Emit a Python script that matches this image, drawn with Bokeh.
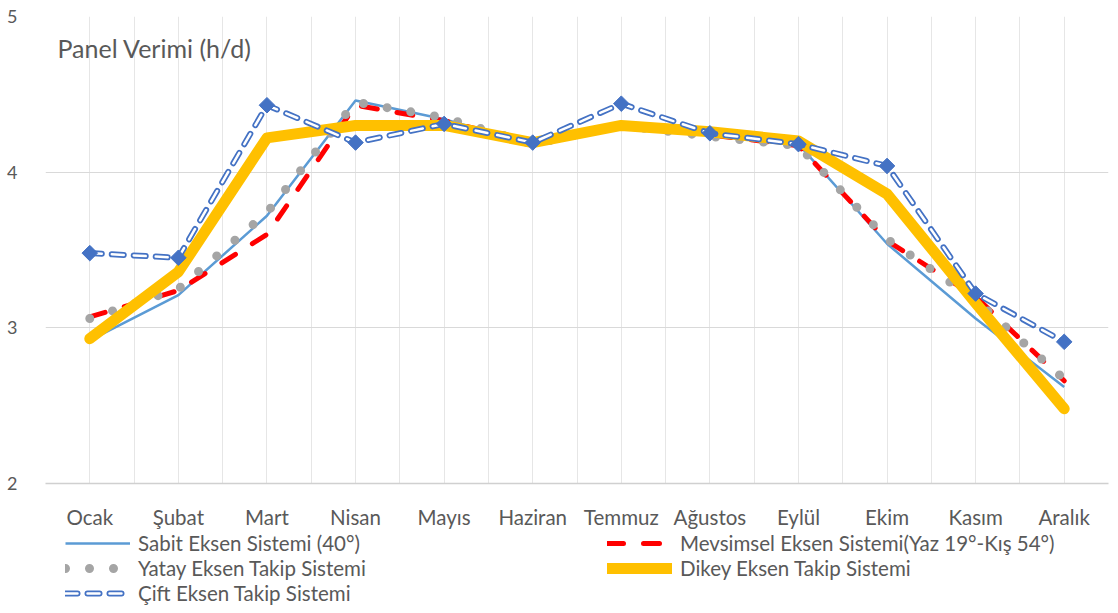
import numpy as np
from bokeh.plotting import figure
from bokeh.layouts import column
from bokeh.models import (ColumnDataSource, FixedTicker, Legend, LegendItem, Label, Range1d)
from bokeh.embed import file_html
from bokeh.resources import INLINE

months = ["Ocak", "Şubat", "Mart", "Nisan", "Mayıs", "Haziran", "Temmuz",
          "Ağustos", "Eylül", "Ekim", "Kasım", "Aralık"]
sabit = [2.92, 3.21, 3.72, 4.46, 4.34, 4.18, 4.30, 4.24, 4.18, 3.54, 3.06, 2.62]
mevsimsel = [3.07, 3.24, 3.60, 4.43, 4.33, 4.19, 4.30, 4.24, 4.17, 3.56, 3.20, 2.66]
yatay = [3.06, 3.25, 3.74, 4.45, 4.35, 4.18, 4.30, 4.23, 4.17, 3.57, 3.18, 2.67]
dikey = [2.93, 3.36, 4.22, 4.30, 4.30, 4.19, 4.30, 4.26, 4.20, 3.86, 3.16, 2.48]
cift = [3.48, 3.45, 4.43, 4.19, 4.31, 4.19, 4.44, 4.25, 4.18, 4.04, 3.22, 2.91]
y_ticks = [2, 3, 4, 5]

names = ["Sabit Eksen Sistemi (40°)", "Mevsimsel Eksen Sistemi(Yaz 19°-Kış 54°)",
         "Yatay Eksen Takip Sistemi", "Dikey Eksen Takip Sistemi", "Çift Eksen Takip Sistemi"]

FONT = "Lato"
TXT = "#595959"

STY = {
    "sabit": [dict(line_color="#5B9BD5", line_width=2.5)],
    "mevsimsel": [dict(line_color="#FF0000", line_width=5, line_dash="16 20",
                       line_cap="round", line_join="round")],
    "yatay": [dict(line_color="#A5A5A5", line_width=9, line_dash="0 24",
                   line_cap="round", line_join="round")],
    "dikey": [dict(line_color="#FFC000", line_width=11, line_cap="round", line_join="round")],
    "cift": [dict(line_color="#4472C4", line_width=6, line_dash="12 10",
                  line_cap="round", line_join="round"),
             dict(line_color="white", line_width=2.5, line_dash="12 10",
                  line_cap="round", line_join="round")],
}
ORDER = ["sabit", "mevsimsel", "yatay", "dikey", "cift"]

x = np.arange(1, len(months) + 1)
src = ColumnDataSource(dict(x=x, sabit=sabit, mevsimsel=mevsimsel, yatay=yatay,
                            dikey=dikey, cift=cift))

W = 1110
p = figure(width=W, height=531, output_backend="svg", toolbar_location=None,
           x_range=Range1d(0.5, len(months) + 0.5), y_range=Range1d(min(y_ticks), max(y_ticks)),
           min_border_left=45, min_border_right=2, min_border_top=16, min_border_bottom=43)
p.outline_line_color = None

p.xaxis.ticker = FixedTicker(ticks=list(x))
p.xaxis.major_label_overrides = {int(i): m for i, m in zip(x, months)}
p.xaxis.major_tick_line_color = None
p.xaxis.minor_tick_line_color = None
p.xaxis.axis_line_color = "#D0D0D0"
p.xaxis.axis_line_width = 1.5
p.xaxis.major_label_standoff = 15
p.xaxis.major_label_text_font = FONT
p.xaxis.major_label_text_font_size = "20.5px"
p.xaxis.major_label_text_color = TXT

p.yaxis.ticker = FixedTicker(ticks=y_ticks)
p.yaxis.major_tick_line_color = None
p.yaxis.minor_tick_line_color = None
p.yaxis.axis_line_color = None
p.yaxis.major_label_standoff = 22
p.yaxis.major_label_text_font = FONT
p.yaxis.major_label_text_font_size = "18px"
p.yaxis.major_label_text_color = TXT

p.xgrid.ticker = FixedTicker(ticks=list(np.arange(0.5, len(months) + 1, 0.5)))
p.xgrid.grid_line_color = "#E6E6E6"
p.ygrid.ticker = FixedTicker(ticks=y_ticks)
p.ygrid.grid_line_color = "#D9D9D9"

for key in ORDER:
    for st in STY[key]:
        p.line("x", key, source=src, **st)
p.scatter("x", "cift", source=src, marker="square", angle=np.pi / 4, size=11,
          fill_color="#4472C4", line_color="#4472C4")

title = Label(x=12, y=436, x_units="screen", y_units="screen", text="Panel Verimi (h/d)",
              text_font=FONT, text_font_size="25px", text_color=TXT,
              text_baseline="alphabetic")
p.add_layout(title)

# legend strip below the chart (its sample lines use the same data, kept out of view)
lg = figure(width=W, height=74, output_backend="svg", toolbar_location=None,
            x_axis_type=None, y_axis_type=None,
            x_range=Range1d(-20, -10), y_range=Range1d(min(y_ticks), max(y_ticks)),
            min_border_left=45, min_border_right=2, min_border_top=0, min_border_bottom=0)
lg.outline_line_color = None
lg.grid.visible = False
sample = {key: [lg.line("x", key, source=src, **st) for st in STY[key]] for key in ORDER}
label_of = dict(zip(ORDER, names))
legend = Legend(items=[LegendItem(label=label_of[k], renderers=sample[k])
                       for k in ["sabit", "yatay", "cift", "mevsimsel", "dikey"]],
                location=(20, 0), orientation="vertical", ncols=2,
                glyph_width=65, glyph_height=24, label_height=24, label_standoff=8,
                label_width=468, spacing=1, padding=0, margin=0,
                border_line_color=None, background_fill_alpha=0,
                label_text_font=FONT, label_text_font_size="20.5px", label_text_color=TXT)
lg.add_layout(legend)

open("out.html", "w").write(file_html(column(p, lg, spacing=0), INLINE))
